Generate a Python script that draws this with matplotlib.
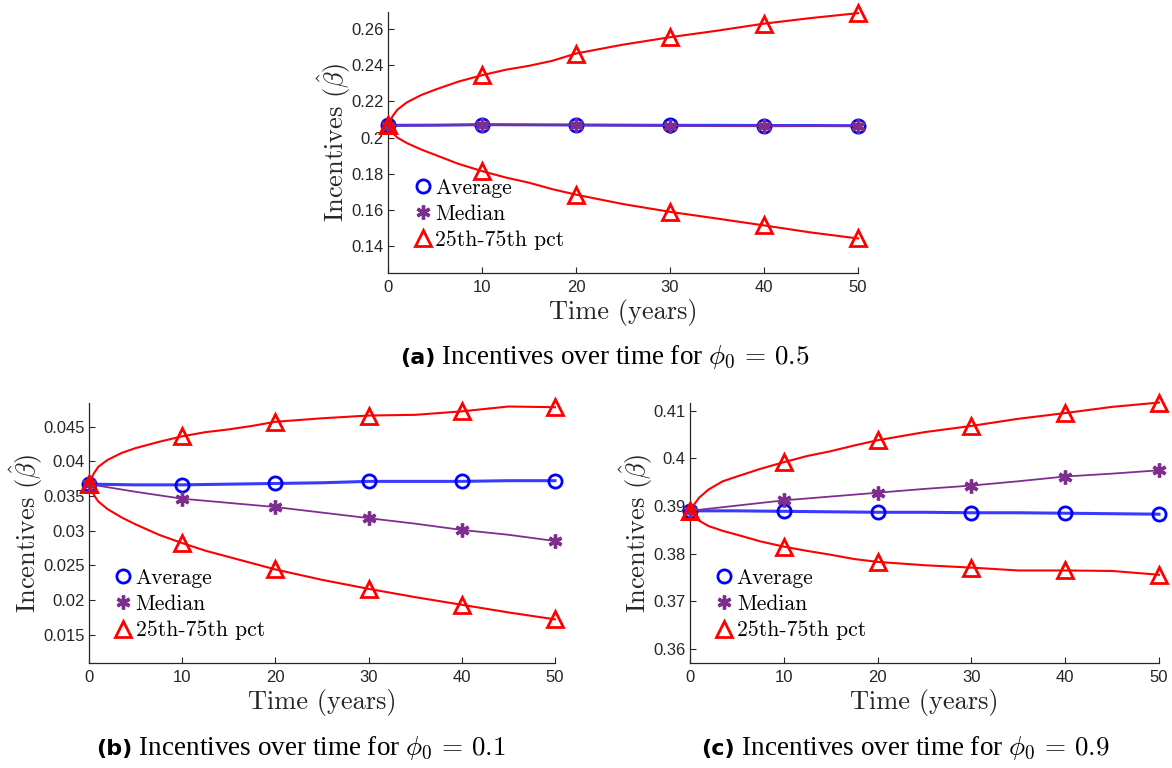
import matplotlib
matplotlib.use("Agg")
import matplotlib.pyplot as plt
from matplotlib.lines import Line2D

plt.rcParams['mathtext.fontset'] = 'cm'
plt.rcParams['axes.unicode_minus'] = False

# time grids (years)
t_fine = [0, 0.5, 1, 2, 3.5, 5, 7.5, 10, 12.5, 15, 17.5, 20, 25, 30, 35, 40, 45, 50]
t_coarse = [0, 5, 10, 15, 20, 25, 30, 35, 40, 45, 50]

# (a) phi_0 = 0.5
a_upper = [0.2070, 0.2120, 0.2155, 0.2195, 0.2235, 0.2265, 0.2310, 0.2345, 0.2375,
           0.2397, 0.2425, 0.2465, 0.2514, 0.2555, 0.2591, 0.2630, 0.2661, 0.2688]
a_lower = [0.2070, 0.2025, 0.2000, 0.1970, 0.1935, 0.1905, 0.1855, 0.1815, 0.1780,
           0.1751, 0.1715, 0.1685, 0.1633, 0.1590, 0.1553, 0.1515, 0.1476, 0.1443]
a_avg = [0.2068, 0.2069, 0.2072, 0.2071, 0.2070, 0.2069, 0.2068, 0.2068, 0.2067, 0.2067, 0.2066]
a_med = [0.2066, 0.2068, 0.2070, 0.2070, 0.2069, 0.2067, 0.2066, 0.2064, 0.2063, 0.2064, 0.2065]

# (b) phi_0 = 0.1
b_upper = [0.0367, 0.0382, 0.0392, 0.0402, 0.0412, 0.0419, 0.0428, 0.0436, 0.0442,
           0.0446, 0.0451, 0.0457, 0.0462, 0.0466, 0.0467, 0.0472, 0.0479, 0.0478]
b_lower = [0.0367, 0.0352, 0.0342, 0.0331, 0.0319, 0.0309, 0.0294, 0.0282, 0.0271,
           0.0262, 0.0253, 0.0244, 0.0229, 0.0216, 0.0204, 0.0193, 0.0182, 0.0172]
b_avg = [0.0367, 0.0366, 0.0366, 0.0367, 0.0368, 0.0369, 0.0371, 0.0371, 0.0371, 0.0372, 0.0372]
b_med = [0.0367, 0.0356, 0.0346, 0.0340, 0.0334, 0.0326, 0.0318, 0.0310, 0.0301, 0.0294, 0.0285]

# (c) phi_0 = 0.9
c_upper = [0.3890, 0.3905, 0.3918, 0.3935, 0.3952, 0.3962, 0.3978, 0.3992, 0.4005,
           0.4015, 0.4027, 0.4038, 0.4055, 0.4068, 0.4083, 0.4095, 0.4108, 0.4117]
c_lower = [0.3890, 0.3878, 0.3869, 0.3858, 0.3848, 0.3840, 0.3826, 0.3815, 0.3806,
           0.3798, 0.3789, 0.3783, 0.3776, 0.3771, 0.3765, 0.3765, 0.3764, 0.3756]
c_avg = [0.3890, 0.3890, 0.3889, 0.3888, 0.3887, 0.3887, 0.3886, 0.3886, 0.3885, 0.3884, 0.3883]
c_med = [0.3890, 0.3901, 0.3912, 0.3920, 0.3928, 0.3936, 0.3943, 0.3952, 0.3962, 0.3968, 0.3975]

x_ticks = [0, 10, 20, 30, 40, 50]
a_yticks = [0.14, 0.16, 0.18, 0.2, 0.22, 0.24, 0.26]
a_ylabels = ['0.14', '0.16', '0.18', '0.2', '0.22', '0.24', '0.26']
b_yticks = [0.015, 0.02, 0.025, 0.03, 0.035, 0.04, 0.045]
b_ylabels = ['0.015', '0.02', '0.025', '0.03', '0.035', '0.04', '0.045']
c_yticks = [0.36, 0.37, 0.38, 0.39, 0.4, 0.41]
c_ylabels = ['0.36', '0.37', '0.38', '0.39', '0.4', '0.41']

legend_labels = ['Average', 'Median', '25th-75th pct']

BLUE = '#0000FF'
PURPLE = '#7E2F8E'
RED = '#FF0000'
SPINE = '#262626'


def every_ten(t):
    return [i for i, v in enumerate(t) if v % 10 == 0]


def draw_panel(ax, upper, lower, avg, med, yticks, ylabels, ylim):
    ax.plot(t_coarse, avg, color='#3a3aff', lw=2.2, marker='o', ms=9.5, mew=2,
            mfc='none', mec=BLUE, markevery=every_ten(t_coarse), zorder=3, clip_on=False)
    ax.plot(t_coarse, med, color=PURPLE, lw=1.3, marker=(6, 2, 0), ms=10, mew=2.4,
            mec=PURPLE, markevery=every_ten(t_coarse), zorder=4, clip_on=False)
    for q in (upper, lower):
        ax.plot(t_fine, q, color=RED, lw=1.5, marker='^', ms=11, mew=2,
                mfc='none', mec=RED, markevery=every_ten(t_fine), zorder=5, clip_on=False)

    ax.set_xlim(0, 50)
    ax.set_ylim(*ylim)
    ax.set_xticks(x_ticks)
    ax.set_yticks(yticks)
    ax.set_yticklabels(ylabels)
    for lab in ax.get_xticklabels() + ax.get_yticklabels():
        lab.set_fontfamily('Liberation Sans')
        lab.set_fontsize(12)
        lab.set_color(SPINE)
    ax.tick_params(direction='in', length=4, width=0.8, color=SPINE)
    ax.tick_params(axis='x', pad=5)
    ax.tick_params(axis='y', pad=3)
    for s in ('top', 'right'):
        ax.spines[s].set_visible(False)
    for s in ('left', 'bottom'):
        ax.spines[s].set_color(SPINE)
        ax.spines[s].set_linewidth(0.9)

    ax.set_xlabel('Time (years)', fontfamily='cmr10', fontsize=19, color='#262626', labelpad=3)
    ax.set_ylabel(r'Incentives $(\hat{\beta})$', fontfamily='cmr10', fontsize=19,
                  color='#262626', labelpad=-1)

    handles = [Line2D([], [], ls='none', marker='o', ms=9.5, mew=2, mfc='none', mec=BLUE),
               Line2D([], [], ls='none', marker=(6, 2, 0), ms=10, mew=2.4, mec=PURPLE),
               Line2D([], [], ls='none', marker='^', ms=11, mew=2, mfc='none', mec=RED)]
    ax.legend(handles, legend_labels, loc='upper left', bbox_to_anchor=(0.03, 0.405),
              frameon=False, borderpad=0, handlelength=0.9, handletextpad=0.12,
              labelspacing=0.3, prop={'family': 'cmr10', 'size': 15.5})


fig = plt.figure(figsize=(11.72, 7.68), dpi=100)
ax_a = fig.add_axes([0.3311, 0.6445, 0.4010, 0.3398])
ax_b = fig.add_axes([0.0759, 0.1367, 0.3976, 0.3385])
ax_c = fig.add_axes([0.5887, 0.1367, 0.4002, 0.3385])

draw_panel(ax_a, a_upper, a_lower, a_avg, a_med, a_yticks, a_ylabels, (0.1252, 0.2694))
draw_panel(ax_b, b_upper, b_lower, b_avg, b_med, b_yticks, b_ylabels, (0.0109, 0.0484))
draw_panel(ax_c, c_upper, c_lower, c_avg, c_med, c_yticks, c_ylabels, (0.3571, 0.4116))

# captions: bold tag then the serif text right after it
captions = [('(a)', r' Incentives over time for $\phi_0\,=\,0.5$', 400, 364),
            ('(b)', r' Incentives over time for $\phi_0\,=\,0.1$', 96, 755),
            ('(c)', r' Incentives over time for $\phi_0\,=\,0.9$', 701, 755)]
fig.canvas.draw()
renderer = fig.canvas.get_renderer()
W, H = fig.bbox.width, fig.bbox.height
for tag, rest, x_px, y_px in captions:
    t1 = fig.text(x_px / W, 1 - y_px / H, tag, fontfamily='DejaVu Sans', fontweight='bold',
                  fontsize=16, va='baseline', ha='left')
    w = t1.get_window_extent(renderer).width
    fig.text((x_px + w) / W, 1 - y_px / H, rest, fontfamily='Liberation Serif',
             fontsize=19.5, va='baseline', ha='left')

fig.savefig('out.png', dpi=100)
